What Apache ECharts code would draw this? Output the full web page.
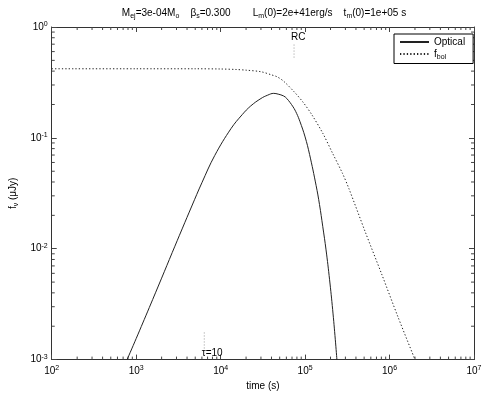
<!DOCTYPE html>
<html>
<head>
<meta charset="utf-8">
<script src="https://cdn.jsdelivr.net/npm/echarts@6/dist/echarts.min.js"></script>
<style>
  html, body { margin: 0; padding: 0; background: #fff; }
  #chart { width: 485px; height: 396px; }
</style>
</head>
<body>
<div id="chart"></div>
<script>
// light curve
const opticalTime = [780, 1000, 1430, 2000, 2670, 3500, 4560, 6000, 8500, 13300, 18000, 22700, 30000, 36000, 42500, 48000, 55500, 60700, 72000, 79400, 86700, 100000, 113000, 135000, 148000, 162000, 177000, 195000, 212000, 228000, 238000]
const opticalFlux = [0.001, 0.00155, 0.00295, 0.00543, 0.00923, 0.0151, 0.0243, 0.0394, 0.0692, 0.1216, 0.162, 0.194, 0.2265, 0.2427, 0.252, 0.248, 0.239, 0.2265, 0.1905, 0.166, 0.141, 0.102, 0.0708, 0.0372, 0.0251, 0.0158, 0.00977, 0.00525, 0.00282, 0.00151, 0.001]
const bolTime = [100, 1000, 5000, 10000, 15000, 20000, 30000, 40000, 46400, 55500, 75000, 94900, 120000, 162000, 212000, 277000, 331000, 517000, 807000, 1260000, 1970000]
const bolFlux = [0.42, 0.42, 0.42, 0.418, 0.414, 0.408, 0.395, 0.37, 0.356, 0.325, 0.258, 0.209, 0.162, 0.11, 0.0724, 0.0479, 0.0347, 0.0141, 0.0059, 0.00242, 0.00103]

const xRange = [1e2, 1e7]
const yRange = [1e-3, 1]

// markers
const rcTime = 7.4e4
const rcFlux = [0.53, 0.72]
const tauTime = 6400
const tauFlux = [1.26e-3, 1.78e-3]
const noteText = ['RC', 'τ=10']
const noteTime = [6.8e4, 5970]
const noteFlux = [0.81, 1.14e-3]

const FONT = 'Liberation Sans'
const rich = {
  n: { fontFamily: FONT, fontSize: 10, fontWeight: 'normal', color: '#000', lineHeight: 13 },
  sup: { fontFamily: FONT, fontSize: 7, fontWeight: 'normal', color: '#000', lineHeight: 6, verticalAlign: 'top' },
  sub: { fontFamily: FONT, fontSize: 7, fontWeight: 'normal', color: '#000', lineHeight: 6, verticalAlign: 'bottom' }
}
const powLabel = v => '{n|10}{sup|' + Math.round(Math.log10(v)) + '}'

const axisLine = { show: true, onZero: false, lineStyle: { color: '#333', width: 1 } }
const axisTick = { show: true, inside: true, length: 5, lineStyle: { color: '#444' } }

function renderMinorTicks (params, api) {
  const children = []
  const line = (x1, y1, x2, y2) => ({
    type: 'line',
    shape: { x1, y1, x2, y2 },
    style: { stroke: '#444', lineWidth: 1 }
  })
  for (let k = Math.log10(xRange[0]); k < Math.log10(xRange[1]); k++) {
    for (let m = 2; m < 10; m++) {
      const v = m * Math.pow(10, k)
      const b = api.coord([v, yRange[0]])
      const t = api.coord([v, yRange[1]])
      children.push(line(b[0], b[1], b[0], b[1] - 3), line(t[0], t[1], t[0], t[1] + 3))
    }
  }
  for (let k = Math.log10(yRange[0]); k < Math.log10(yRange[1]); k++) {
    for (let m = 2; m < 10; m++) {
      const v = m * Math.pow(10, k)
      const l = api.coord([xRange[0], v])
      const r = api.coord([xRange[1], v])
      children.push(line(l[0], l[1], l[0] + 3, l[1]), line(r[0], r[1], r[0] - 3, r[1]))
    }
  }
  return { type: 'group', children }
}

function renderNote (params, api) {
  const p = api.coord([api.value(0), api.value(1)])
  return {
    type: 'text',
    x: p[0],
    y: p[1],
    style: {
      text: noteText[params.dataIndex],
      fontFamily: FONT,
      fontSize: 10,
      fill: '#000',
      align: 'left',
      verticalAlign: 'middle'
    }
  }
}

const chart = echarts.init(document.getElementById('chart'))
const option = {
  animation: false,
  backgroundColor: '#fff',
  title: {
    text: '{n|M}{sub|ej}{n|=3e-04M}{sub|o}{n|    β}{sub|s}{n|=0.300        L}{sub|m}{n|(0)=2e+41erg/s    t}{sub|m}{n|(0)=1e+05 s}',
    left: 259,
    textAlign: 'center',
    top: 2,
    textStyle: { fontWeight: 'normal', rich }
  },
  legend: {
    left: 394,
    top: 34,
    orient: 'vertical',
    padding: [3, 8, 3, 5],
    itemWidth: 29,
    itemHeight: 12,
    itemGap: 2,
    borderColor: '#000',
    borderWidth: 1,
    backgroundColor: '#fff',
    itemStyle: { opacity: 0 },
    data: ['Optical', 'f_bol'],
    formatter: name => name === 'f_bol' ? '{n|f}{sub|bol}' : '{n|' + name + '}',
    textStyle: { rich }
  },
  grid: { left: 44, right: 11, top: 27, bottom: 33 },
  xAxis: [
    {
      type: 'log',
      logBase: 10,
      min: xRange[0],
      max: xRange[1],
      name: 'time (s)',
      nameLocation: 'middle',
      nameGap: 19,
      nameTextStyle: { fontFamily: FONT, fontSize: 10, color: '#000' },
      axisLine,
      axisTick,
      splitLine: { show: false },
      axisLabel: { margin: 5, formatter: powLabel, rich }
    },
    {
      type: 'log',
      logBase: 10,
      position: 'top',
      min: xRange[0],
      max: xRange[1],
      axisLine,
      axisTick,
      splitLine: { show: false },
      axisLabel: { show: false }
    }
  ],
  yAxis: [
    {
      type: 'log',
      logBase: 10,
      min: yRange[0],
      max: yRange[1],
      name: '{n|f}{sub|ν}{n| (μJy)}',
      nameLocation: 'middle',
      nameGap: 28,
      nameRotate: 90,
      nameTextStyle: { rich },
      axisLine,
      axisTick,
      splitLine: { show: false },
      axisLabel: { margin: 4, formatter: powLabel, rich }
    },
    {
      type: 'log',
      logBase: 10,
      position: 'right',
      min: yRange[0],
      max: yRange[1],
      axisLine,
      axisTick,
      splitLine: { show: false },
      axisLabel: { show: false }
    }
  ],
  series: [
    {
      name: 'Optical',
      type: 'line',
      symbol: 'none',
      smooth: 0.4,
      color: '#222',
      lineStyle: { color: '#222', width: 1 },
      data: opticalTime.map((t, i) => [t, opticalFlux[i]])
    },
    {
      name: 'f_bol',
      type: 'line',
      symbol: 'none',
      smooth: 0.3,
      color: '#222',
      lineStyle: { color: '#222', width: 1, type: [1.3, 2.1] },
      data: bolTime.map((t, i) => [t, bolFlux[i]])
    },
    {
      type: 'line',
      symbol: 'none',
      silent: true,
      lineStyle: { color: '#999', width: 1, type: [1, 2] },
      data: rcFlux.map(f => [rcTime, f])
    },
    {
      type: 'line',
      symbol: 'none',
      silent: true,
      lineStyle: { color: '#999', width: 1, type: [1, 2] },
      data: tauFlux.map(f => [tauTime, f])
    },
    {
      type: 'custom',
      silent: true,
      renderItem: renderNote,
      data: noteTime.map((t, i) => [t, noteFlux[i]])
    },
    {
      type: 'custom',
      silent: true,
      clip: false,
      renderItem: renderMinorTicks,
      data: [[xRange[0], yRange[0]]]
    }
  ]
}
chart.setOption(option)
</script>
</body>
</html>
